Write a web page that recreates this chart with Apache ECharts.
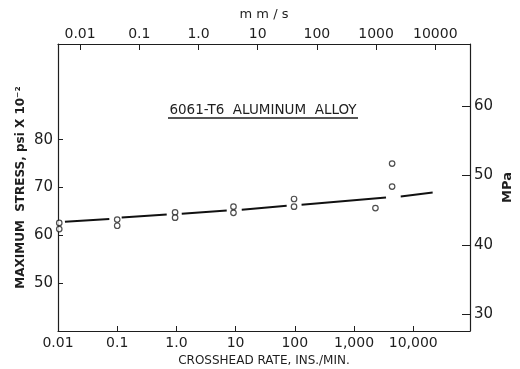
<!DOCTYPE html>
<html>
<head>
<meta charset="utf-8">
<script src="https://cdn.jsdelivr.net/npm/echarts@6/dist/echarts.min.js"></script>
<style>
  html, body { margin: 0; padding: 0; background: #fff; }
  #chart { width: 520px; height: 369px; }
</style>
</head>
<body>
<div id="chart"></div>
<script>
// bottom axis: crosshead rate, in./min
const rateTicks = [0.01, 0.1, 1, 10, 100, 1000, 10000]
const rateLabels = ['0.01', '0.1', '1.0', '10', '100', '1,000', '10,000']
// top axis: mm/s
const mmsTicks = [0.01, 0.1, 1, 10, 100, 1000, 10000]
const mmsLabels = ['0.01', '0.1', '1.0', '10', '100', '1000', '10000']
// left axis psi x 10^-2, right axis MPa
const psiTicks = [50, 60, 70, 80]
const mpaTicks = [30, 40, 50, 60]

// test results [rate in./min, max stress psi x 10^-2]
const testPoints = [
  [0.0105, 62.6], [0.0105, 61.3],
  [0.1, 63.3], [0.1, 62.0],
  [0.95, 64.8], [0.95, 63.7],
  [9.2, 66.0], [9.2, 64.7],
  [97, 67.6], [97, 66.0],
  [2300, 65.7],
  [4400, 75.0], [4400, 70.2]
]

// trend line, drawn in pieces (broken at the test points)
const trendPieces = [
  [[0.0131, 62.85], [0.0736, 63.41]],
  [[0.119, 63.74], [0.686, 64.37]],
  [[1.23, 64.5], [7.08, 65.21]],
  [[12.7, 65.36], [72.9, 66.19]],
  [[130, 66.4], [3470, 67.93]],
  [[6150, 68.14], [21300, 68.97]]
]

const rateMin = 0.01
const rateMax = 91000
const psiMin = 40
const psiMax = 100
const inMinToMms = 25.4 / 60   // 1 in./min in mm/s
const psi100ToMpa = 0.689476   // 100 psi in MPa

const ink = '#1e1e1e'
const font = 'DejaVu Sans'

function nearestLabel(v, ticks, labels) {
  let best = 0
  for (let i = 1; i < ticks.length; i++) {
    if (Math.abs(Math.log10(ticks[i] / v)) < Math.abs(Math.log10(ticks[best] / v))) best = i
  }
  return Math.abs(Math.log10(ticks[best] / v)) < 0.01 ? labels[best] : ''
}

const myChart = echarts.init(document.getElementById('chart'))

var option = {
  backgroundColor: '#fff',
  animation: false,
  textStyle: { fontFamily: font, color: ink },
  grid: { left: 58, right: 50, top: 44, bottom: 38, containLabel: false, outerBoundsMode: 'none' },
  xAxis: [
    {
      type: 'log',
      min: rateMin,
      max: rateMax,
      name: 'CROSSHEAD RATE, INS./MIN.',
      nameLocation: 'middle',
      nameGap: 24,
      nameTextStyle: { fontSize: 12, color: ink, fontFamily: font },
      axisLine: { lineStyle: { color: ink, width: 1.2 } },
      axisTick: { inside: true, length: 5, customValues: rateTicks, lineStyle: { color: ink } },
      axisLabel: {
        customValues: rateTicks,
        margin: 5,
        fontSize: 14,
        color: ink,
        formatter: (v) => nearestLabel(v, rateTicks, rateLabels),
      },
      splitLine: { show: false },
    },
    {
      type: 'log',
      position: 'top',
      min: rateMin * inMinToMms,
      max: rateMax * inMinToMms,
      name: 'm m / s',
      nameLocation: 'middle',
      nameGap: 23,
      nameTextStyle: { fontSize: 13, color: ink, fontFamily: font },
      axisLine: { lineStyle: { color: ink, width: 1.2 } },
      axisTick: { inside: true, length: 6, customValues: mmsTicks, lineStyle: { color: ink } },
      axisLabel: {
        customValues: mmsTicks,
        margin: 3,
        fontSize: 14,
        color: ink,
        formatter: (v) => nearestLabel(v, mmsTicks, mmsLabels),
      },
      splitLine: { show: false },
    },
  ],
  yAxis: [
    {
      type: 'value',
      min: psiMin,
      max: psiMax,
      name: 'MAXIMUM  STRESS, psi X 10\u207B\u00B2',
      nameLocation: 'middle',
      nameRotate: 90,
      nameGap: 31,
      nameMoveOverlap: false,
      nameTextStyle: { fontSize: 12, fontWeight: 'bold', color: ink, fontFamily: font },
      axisLine: { show: true, lineStyle: { color: ink, width: 1.2 } },
      axisTick: { show: true, inside: true, length: 5, customValues: psiTicks, lineStyle: { color: ink } },
      axisLabel: { customValues: psiTicks, margin: 5, fontSize: 15, color: ink },
      splitLine: { show: false },
    },
    {
      type: 'value',
      position: 'right',
      min: psiMin * psi100ToMpa,
      max: psiMax * psi100ToMpa,
      name: 'MPa',
      nameLocation: 'middle',
      nameRotate: 90,
      nameGap: 31,
      nameMoveOverlap: false,
      nameTextStyle: { fontSize: 13, fontWeight: 'bold', color: ink, fontFamily: font },
      axisLine: { show: true, lineStyle: { color: ink, width: 1.2 } },
      axisTick: { show: true, inside: true, length: 8, customValues: mpaTicks, lineStyle: { color: ink } },
      axisLabel: { customValues: mpaTicks, margin: 4, fontSize: 15, color: ink },
      splitLine: { show: false },
    },
  ],
  graphic: [
    {
      type: 'text',
      x: 263,
      y: 110,
      style: {
        text: '6061-T6  ALUMINUM  ALLOY',
        textAlign: 'center',
        textVerticalAlign: 'middle',
        font: '13.5px "DejaVu Sans"',
        fill: ink,
      },
    },
    {
      type: 'line',
      shape: { x1: 168, y1: 118, x2: 358, y2: 118 },
      style: { stroke: ink, lineWidth: 1.5 },
    },
  ],
  series: [
    ...trendPieces.map((piece) => ({
      type: 'line',
      xAxisIndex: 0,
      yAxisIndex: 0,
      data: piece,
      symbol: 'none',
      lineStyle: { color: '#111', width: 2 },
      silent: true,
    })),
    {
      name: 'tests',
      type: 'scatter',
      xAxisIndex: 0,
      yAxisIndex: 0,
      data: testPoints,
      symbol: 'circle',
      symbolSize: 5.5,
      itemStyle: { color: '#fff', borderColor: '#222', borderWidth: 1.2 },
    },
  ],
}

myChart.setOption(option)
</script>
</body>
</html>
